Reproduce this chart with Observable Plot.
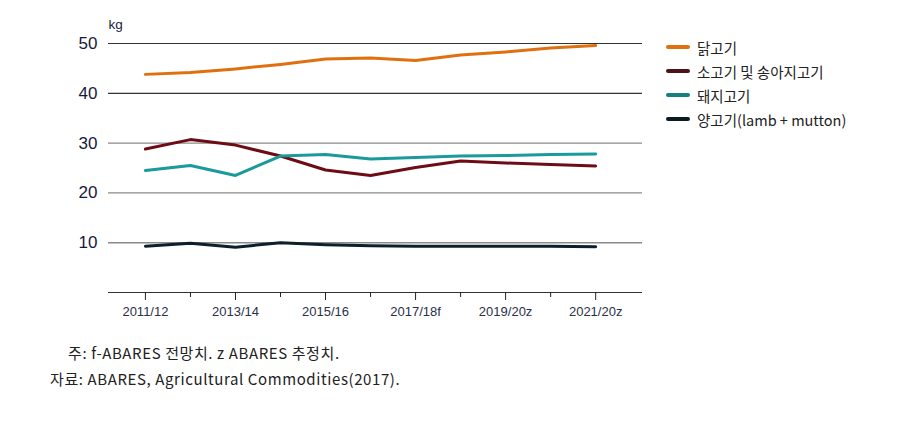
<!DOCTYPE html>
<html>
<head>
<meta charset="utf-8">
<script src="https://cdn.jsdelivr.net/npm/d3@7"></script>
<script src="https://cdn.jsdelivr.net/npm/@observablehq/plot@0.6"></script>
<style>
  body { margin: 0; background: #fff; width: 906px; height: 424px; position: relative; overflow: hidden; }
  #chart { position: absolute; left: 0; top: 0; }
  .legend { position: absolute; left: 666px; top: 35px; font-family: "Noto Sans CJK KR", sans-serif; font-size: 14.5px; color: #222; }
  .legend .row { display: flex; align-items: center; height: 24px; }
  .legend .sw { width: 24px; height: 4px; border-radius: 2px; margin-right: 7px; }
  .caption { position: absolute; font-family: "Noto Sans CJK KR", sans-serif; font-size: 15px; letter-spacing: 0.6px; color: #222; white-space: nowrap; }
</style>
</head>
<body>
<div id="chart"></div>
<div class="legend" id="legend"></div>
<div class="caption" style="left:68px; top:342px;">주: f-ABARES 전망치. z ABARES 추정치.</div>
<div class="caption" style="left:50px; top:368px;">자료: ABARES, Agricultural Commodities(2017).</div>
<script>
const years = [2011, 2012, 2013, 2014, 2015, 2016, 2017, 2018, 2019, 2020, 2021];
const labeledYears = [2011, 2013, 2015, 2017, 2019, 2021];
const tickLabels = ["2011/12", "2013/14", "2015/16", "2017/18f", "2019/20z", "2021/20z"];
const seriesNames = ["닭고기", "소고기 및 송아지고기", "돼지고기", "양고기(lamb + mutton)"];
const chicken = [43.8, 44.2, 44.9, 45.8, 46.9, 47.1, 46.6, 47.7, 48.3, 49.1, 49.6];
const beef    = [28.8, 30.7, 29.6, 27.4, 24.6, 23.5, 25.1, 26.4, 26.0, 25.7, 25.4];
const pork    = [24.5, 25.5, 23.5, 27.4, 27.7, 26.8, 27.1, 27.4, 27.5, 27.7, 27.8];
const lamb    = [9.3, 9.9, 9.1, 10.0, 9.6, 9.4, 9.3, 9.3, 9.3, 9.3, 9.2];
const yTicks = [10, 20, 30, 40, 50];
const colors = ["#e0700f", "#6e0c16", "#1a9a9b", "#0c1f2b"];
const legendColors = ["#e0700f", "#4a1418", "#17807f", "#0c1a22"];

const allSeries = [chicken, beef, pork, lamb];
const data = [];
allSeries.forEach((vals, i) => vals.forEach((v, j) => data.push({series: seriesNames[i], year: years[j], value: v})));
const minorYears = years.filter(y => !labeledYears.includes(y));

const chart = Plot.plot({
  width: 906,
  height: 335,
  marginLeft: 108,
  marginRight: 264,
  marginTop: 43,
  marginBottom: 43,
  style: {fontFamily: "Liberation Sans, Arial, sans-serif", background: "white"},
  x: {type: "linear", domain: [2010.18, 2022.04]},
  y: {domain: [0, 50]},
  color: {domain: seriesNames, range: colors},
  marks: [
    Plot.ruleY([40, 50], {stroke: "#333", strokeWidth: 1.2}),
    Plot.ruleY([10, 20, 30], {stroke: "#8a8a8a", strokeWidth: 1.4}),
    Plot.ruleY([0], {stroke: "#333", strokeWidth: 1.2}),
    Plot.axisY({ticks: yTicks, tickSize: 0, tickPadding: 11, fontSize: 17, fill: "#141a3a", label: null}),
    Plot.axisX({ticks: labeledYears, tickSize: 8, tickPadding: 6, tickFormat: d => tickLabels[labeledYears.indexOf(d)], fontSize: 13, stroke: "#222", fill: "#2a2f4a", label: null, style: {fontFamily: "Liberation Sans Narrow, Arial Narrow, sans-serif"}}),
    Plot.axisX({ticks: minorYears, tickSize: 5, tickFormat: () => "", stroke: "#222", label: null}),
    Plot.text(["kg"], {frameAnchor: "top-left", dx: 0, dy: -19, lineAnchor: "middle", fontSize: 13.5, fill: "#1b2040", textAnchor: "start"}),
    Plot.line(data, {x: "year", y: "value", z: "series", stroke: "series", strokeWidth: 3, strokeLinejoin: "round", strokeLinecap: "round"})
  ]
});
document.getElementById("chart").appendChild(chart);

const legend = document.getElementById("legend");
seriesNames.forEach((name, i) => {
  const row = document.createElement("div");
  row.className = "row";
  const sw = document.createElement("span");
  sw.className = "sw";
  sw.style.background = legendColors[i];
  const t = document.createElement("span");
  t.textContent = name;
  row.appendChild(sw);
  row.appendChild(t);
  legend.appendChild(row);
});
</script>
</body>
</html>
